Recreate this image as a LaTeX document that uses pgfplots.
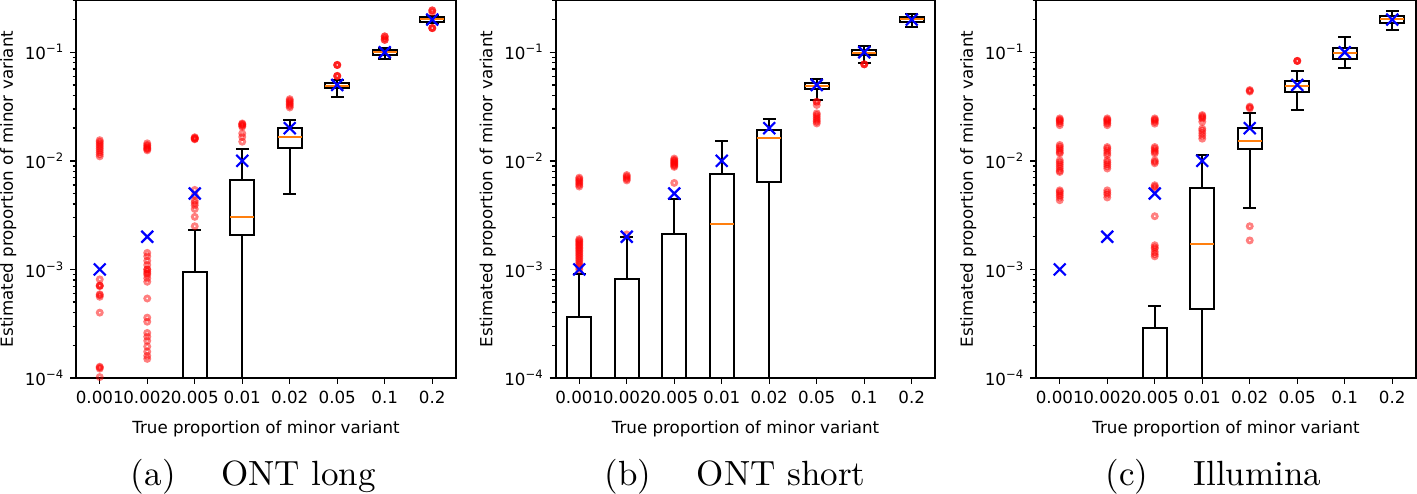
\documentclass[border=0pt]{standalone}
\usepackage{fontspec}
\usepackage{pgfplots}
\pgfplotsset{compat=1.18}
\newfontfamily\djv{DejaVu Sans}
\newfontfamily\capf{lmroman10-regular.otf}
\newcommand{\tkf}{\fontsize{8.35}{10}\djv}
\newcommand{\pw}[1]{10\raisebox{0.42em}{\fontsize{5.8}{6}\selectfont −#1}}
\definecolor{mplorange}{HTML}{FF7F0E}
\newcommand{\bp}[6]{%
 \pgfmathsetmacro\bxa{#1-0.25}\pgfmathsetmacro\bxb{#1+0.25}%
 \pgfmathsetmacro\bca{#1-0.135}\pgfmathsetmacro\bcb{#1+0.135}%
 \addplot[black, line width=1pt, line cap=rect, mark=none] coordinates {(\bxa,#3)(\bxb,#3)(\bxb,#5)(\bxa,#5)(\bxa,#3)};
 \addplot[black, line width=1pt, mark=none] coordinates {(#1,#3)(#1,#2)};
 \addplot[black, line width=1pt, mark=none] coordinates {(#1,#5)(#1,#6)};
 \addplot[black, line width=1pt, mark=none] coordinates {(\bca,#2)(\bcb,#2)};
 \addplot[black, line width=1pt, mark=none] coordinates {(\bca,#6)(\bcb,#6)};
 \addplot[mplorange, line width=1pt, mark=none] coordinates {(\bxa,#4)(\bxb,#4)};
}
\pgfplotsset{
  every axis/.append style={
    scale only axis, width=190pt, height=189pt,
    xmin=0.5, xmax=8.5,
    xtick={1,2,3,4,5,6,7,8},
    xticklabels={0.001,0.002,0.005,0.01,0.02,0.05,0.1,0.2},
    ytick={1e-4,1e-3,1e-2,1e-1},
    yticklabels={\pw{4},\pw{3},\pw{2},\pw{1}},
    minor ytick={2e-4,3e-4,4e-4,5e-4,6e-4,7e-4,8e-4,9e-4,2e-3,3e-3,4e-3,5e-3,6e-3,7e-3,8e-3,9e-3,0.02,0.03,0.04,0.05,0.06,0.07,0.08,0.09,0.2,0.3},
    tick align=outside, tick pos=left,
    major tick length=2.9pt, minor tick length=1.7pt,
    xlabel={True proportion of minor variant},
    ylabel={Estimated proportion of minor variant},
  },
  every tick/.append style={black, line width=0.7pt},
  every axis label/.append style={font=\tkf},
  every tick label/.append style={font=\tkf},
  every axis x label/.style={at={(axis description cs:0.5,0)}, anchor=base, yshift=-27.5pt},
  every axis y label/.style={at={(axis description cs:-0.178,0.5)}, anchor=center, rotate=90},
}
\begin{document}
\begin{tikzpicture}
\path[use as bounding box] (0,0) rectangle (708.5pt,246.5pt);
% (a) ONT long
\begin{axis}[ymode=log, ymin=1e-4, ymax=0.303, at={(38pt,57.5pt)}, anchor=south west, axis line style={line width=1pt}]
\bp{1}{1e-6}{1e-6}{1e-6}{1e-6}{1e-6}
\bp{2}{1e-6}{1e-6}{1e-6}{1e-6}{1e-6}
\bp{3}{1e-6}{1e-6}{1e-6}{9.4e-4}{2.29e-3}
\bp{4}{1e-6}{2.06e-3}{3.04e-3}{6.6e-3}{0.0128}
\bp{5}{4.9e-3}{0.0132}{0.0167}{0.0202}{0.0237}
\bp{6}{0.039}{0.0465}{0.0492}{0.0525}{0.0555}
\bp{7}{0.0862}{0.0945}{0.1}{0.105}{0.109}
\bp{8}{0.185}{0.192}{0.202}{0.21}{0.216}
\addplot[only marks, mark=o, mark size=1.25pt, mark options={draw=red, line width=1.4pt, fill=none, opacity=0.5}] coordinates {
(1,0.011)(1,0.0115)(1,0.012)(1,0.0125)(1,0.013)(1,0.0135)(1,0.014)(1,0.0145)(1,0.015)(1,0.0155)
(1,8.1e-4)(1,7.1e-4)(1,7.1e-4)(1,7.0e-4)(1,5.9e-4)(1,5.8e-4)(1,5.6e-4)(1,4.0e-4)(1,1.27e-4)(1,1.25e-4)(1,1.22e-4)(1,1.02e-4)
(2,0.0125)(2,0.0128)(2,0.013)(2,0.0133)(2,0.0137)(2,0.014)(2,0.0145)
(2,1.42e-3)(2,1.32e-3)(2,1.2e-3)(2,1.1e-3)(2,1.0e-3)(2,1.0e-3)(2,9.5e-4)(2,9.2e-4)(2,8.9e-4)(2,8.3e-4)(2,7.7e-4)(2,5.4e-4)
(2,3.6e-4)(2,3.3e-4)(2,2.6e-4)(2,2.4e-4)(2,2.2e-4)(2,1.95e-4)(2,1.75e-4)(2,1.6e-4)(2,1.5e-4)
(3,0.0165)(3,0.0163)(3,0.016)(3,0.016)(3,0.0158)
(3,5.4e-3)(3,4.8e-3)(3,4.3e-3)(3,4.1e-3)(3,3.9e-3)(3,3.6e-3)(3,3.05e-3)(3,2.5e-3)
(4,0.0221)(4,0.0218)(4,0.0215)(4,0.021)(4,0.0206)(4,0.0179)(4,0.0166)(4,0.015)
(5,0.037)(5,0.036)(5,0.035)(5,0.034)(5,0.033)(5,0.032)(5,0.031)
(6,0.0764)(6,0.0764)(6,0.0764)(6,0.0605)(6,0.0605)(6,0.0605)
(7,0.14)(7,0.14)(7,0.135)(7,0.13)(7,0.13)
(8,0.243)(8,0.243)(8,0.234)(8,0.167)(8,0.167)(8,0.167)
};
\addplot[only marks, mark=x, mark size=4.2pt, mark options={draw=blue, line width=1.1pt}] coordinates {(1,0.001)(2,0.002)(3,0.005)(4,0.01)(5,0.02)(6,0.05)(7,0.1)(8,0.2)};
\end{axis}
% (b) ONT short
\begin{axis}[ymode=log, ymin=1e-4, ymax=0.303, at={(277.75pt,57.5pt)}, anchor=south west, axis line style={line width=1pt}]
\bp{1}{1e-6}{1e-6}{1e-6}{3.63e-4}{9.06e-4}
\bp{2}{1e-6}{1e-6}{1e-6}{8.15e-4}{2.0e-3}
\bp{3}{1e-6}{1e-6}{1e-6}{2.13e-3}{4.49e-3}
\bp{4}{1e-6}{1e-6}{2.64e-3}{7.64e-3}{0.0152}
\bp{5}{1e-6}{6.35e-3}{0.0161}{0.0192}{0.0243}
\bp{6}{0.0363}{0.0455}{0.049}{0.0525}{0.0564}
\bp{7}{0.0803}{0.0945}{0.099}{0.105}{0.114}
\bp{8}{0.17}{0.189}{0.202}{0.213}{0.226}
\addplot[only marks, mark=o, mark size=1.25pt, mark options={draw=red, line width=1.4pt, fill=none, opacity=0.5}] coordinates {
(1,1.0e-3)(1,1.05e-3)(1,1.1e-3)(1,1.15e-3)(1,1.2e-3)(1,1.25e-3)(1,1.3e-3)(1,1.35e-3)(1,1.4e-3)(1,1.45e-3)
(1,1.5e-3)(1,1.55e-3)(1,1.6e-3)(1,1.65e-3)(1,1.7e-3)(1,1.75e-3)(1,1.8e-3)(1,1.85e-3)(1,1.9e-3)
(1,5.8e-3)(1,6.0e-3)(1,6.2e-3)(1,6.4e-3)(1,6.6e-3)(1,6.8e-3)(1,7.0e-3)
(2,2.1e-3)(2,6.6e-3)(2,6.8e-3)(2,7.0e-3)(2,7.2e-3)(2,7.4e-3)
(3,6.26e-3)(3,8.8e-3)(3,9.0e-3)(3,9.2e-3)(3,9.4e-3)(3,9.6e-3)(3,9.8e-3)(3,0.01)(3,0.0102)(3,0.0105)
(6,0.035)(6,0.035)(6,0.0327)(6,0.0274)(6,0.0265)(6,0.0255)(6,0.0245)(6,0.0237)(6,0.0229)(6,0.0221)
(7,0.0775)(7,0.0775)(7,0.0775)
};
\addplot[only marks, mark=x, mark size=4.2pt, mark options={draw=blue, line width=1.1pt}] coordinates {(1,0.001)(2,0.002)(3,0.005)(4,0.01)(5,0.02)(6,0.05)(7,0.1)(8,0.2)};
\end{axis}
% (c) Illumina
\begin{axis}[ymode=log, ymin=1e-4, ymax=0.303, at={(518pt,57.5pt)}, anchor=south west, axis line style={line width=1pt}]
\bp{1}{1e-6}{1e-6}{1e-6}{1e-6}{1e-6}
\bp{2}{1e-6}{1e-6}{1e-6}{1e-6}{1e-6}
\bp{3}{1e-6}{1e-6}{1e-6}{2.87e-4}{4.62e-4}
\bp{4}{1e-6}{4.3e-4}{1.71e-3}{5.68e-3}{0.0113}
\bp{5}{3.7e-3}{0.0128}{0.0152}{0.0199}{0.0274}
\bp{6}{0.0294}{0.0434}{0.049}{0.0543}{0.0673}
\bp{7}{0.0722}{0.0868}{0.099}{0.109}{0.1375}
\bp{8}{0.161}{0.185}{0.202}{0.218}{0.241}
\addplot[only marks, mark=o, mark size=1.25pt, mark options={draw=red, line width=1.4pt, fill=none, opacity=0.5}] coordinates {
(1,0.0246)(1,0.024)(1,0.0235)(1,0.023)(1,0.0222)(1,0.0213)
(1,0.014)(1,0.0135)(1,0.013)(1,0.0125)(1,0.012)(1,0.0117)
(1,0.0101)(1,0.0097)(1,0.0093)(1,0.0089)(1,0.0085)(1,0.0081)(1,0.0079)
(1,5.35e-3)(1,5.2e-3)(1,5.0e-3)(1,4.8e-3)(1,4.6e-3)(1,4.34e-3)
(2,0.0246)(2,0.024)(2,0.0235)(2,0.0228)(2,0.0221)(2,0.0213)
(2,0.0134)(2,0.013)(2,0.0124)(2,0.0118)(2,0.0113)
(2,0.0101)(2,0.0097)(2,0.0093)(2,0.0089)(2,0.0085)
(2,5.35e-3)(2,5.1e-3)(2,4.9e-3)(2,4.6e-3)
(3,0.0246)(3,0.024)(3,0.0235)(3,0.0228)(3,0.022)
(3,0.0134)(3,0.013)(3,0.0125)(3,0.0121)(3,0.0117)
(3,0.0101)(3,0.0098)(3,0.0095)
(3,5.96e-3)(3,5.8e-3)(3,5.6e-3)(3,3.09e-3)
(3,1.67e-3)(3,1.6e-3)(3,1.55e-3)(3,1.45e-3)(3,1.38e-3)(3,1.32e-3)
(4,0.0264)(4,0.0258)(4,0.025)(4,0.0245)(4,0.0229)(4,0.0198)(4,0.019)(4,0.018)(4,0.017)(4,0.016)
(5,0.0449)(5,0.0442)(5,0.0435)(5,0.0316)(5,0.031)(5,0.0304)(5,2.5e-3)(5,1.85e-3)
(6,0.0832)(6,0.0832)(6,0.0832)
};
\addplot[only marks, mark=x, mark size=4.2pt, mark options={draw=blue, line width=1.1pt}] coordinates {(1,0.001)(2,0.002)(3,0.005)(4,0.01)(5,0.02)(6,0.05)(7,0.1)(8,0.2)};
\end{axis}
\node[anchor=base, font=\capf\fontsize{17.5}{21}\selectfont] at (126.7pt,4pt) {(a)\hspace{1.3em}ONT long};
\node[anchor=base, font=\capf\fontsize{17.5}{21}\selectfont] at (367.5pt,4pt) {(b)\hspace{1.3em}ONT short};
\node[anchor=base, font=\capf\fontsize{17.5}{21}\selectfont] at (606.7pt,4pt) {(c)\hspace{1.3em}Illumina};
\end{tikzpicture}
\end{document}
